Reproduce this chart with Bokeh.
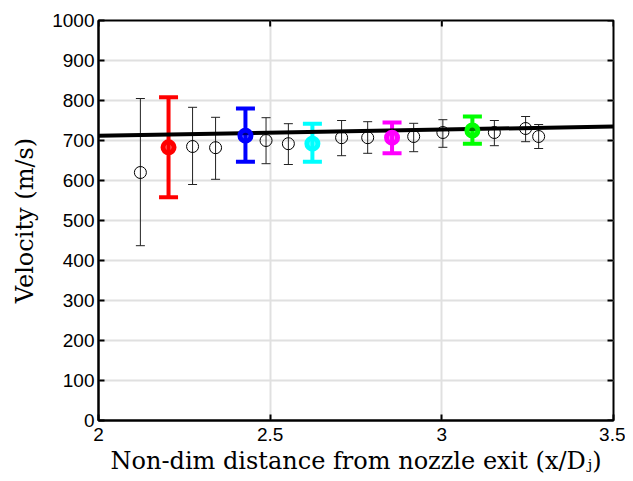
import math
from bokeh.plotting import figure
from bokeh.models import ColumnDataSource, Whisker, TeeHead, FixedTicker, Range1d
from bokeh.embed import file_html
from bokeh.resources import INLINE

# black measurement points
bx = [2.122, 2.274, 2.341, 2.488, 2.553, 2.708, 2.784, 2.918, 3.003, 3.153, 3.244, 3.282]
by = [620, 685, 682, 700, 692, 707, 707, 710, 720, 720, 730, 710]
b_lo = [437, 590, 603, 642, 640, 662, 668, 672, 683, 687, 697, 680]
b_hi = [805, 783, 758, 757, 742, 750, 747, 743, 752, 750, 760, 740]

# coloured points
cx = [2.204, 2.428, 2.623, 2.855, 3.089]
cy = [683, 712, 692, 707, 725]
c_lo = [558, 647, 647, 668, 692]
c_hi = [808, 780, 742, 745, 760]
c_col = ["#ff0000", "#0000ff", "#00ffff", "#ff00ff", "#00ff00"]

# fitted line
fit_x = [2.0, 3.5]
fit_y = [712, 735]

x_ticks = [2, 2.5, 3, 3.5]
y_ticks = [0, 100, 200, 300, 400, 500, 600, 700, 800, 900, 1000]
x_min, x_max = 2.0, 3.5
y_min, y_max = 0, 1000

p = figure(width=625, height=480, output_backend="svg", toolbar_location=None,
           x_range=Range1d(x_min, x_max), y_range=Range1d(y_min, y_max),
           min_border_left=98, min_border_right=12, min_border_top=20, min_border_bottom=60)

p.background_fill_color = "white"
p.outline_line_color = "black"
p.outline_line_width = 2

for ax in (p.xaxis[0], p.yaxis[0]):
    ax.major_tick_in = 6
    ax.major_tick_out = 0
    ax.minor_tick_in = 0
    ax.minor_tick_out = 0
    ax.axis_line_width = 2
    ax.major_tick_line_width = 2
    ax.major_label_text_font = "Liberation Sans"
    ax.major_label_text_font_size = "19px"
    ax.major_label_text_color = "black"
    ax.axis_label_text_font = "DejaVu Serif"
    ax.axis_label_text_font_style = "normal"
    ax.axis_label_text_font_size = "24px"
    ax.axis_label_text_color = "black"

p.xaxis.ticker = FixedTicker(ticks=x_ticks)
p.yaxis.ticker = FixedTicker(ticks=y_ticks)
p.xaxis.axis_label = "Non-dim distance from nozzle exit (x/Dⱼ)"
p.yaxis.axis_label = "Velocity (m/s)"
p.xaxis.major_label_standoff = 7
p.xaxis.axis_label_standoff = 3
p.yaxis.major_label_standoff = 4
p.yaxis.axis_label_standoff = 10

# inward ticks on the right and top edges of the box
p.ray(x=[x_max] * len(y_ticks), y=y_ticks, length=6, length_units="screen",
      angle=math.pi, line_color="black", line_width=2)
p.ray(x=x_ticks, y=[y_max] * len(x_ticks), length=6, length_units="screen",
      angle=-math.pi / 2, line_color="black", line_width=2)

p.xgrid.ticker = FixedTicker(ticks=x_ticks)
p.ygrid.ticker = FixedTicker(ticks=y_ticks)
p.grid.grid_line_color = "#e0e0e0"
p.grid.grid_line_width = 2

bsrc = ColumnDataSource(dict(x=bx, y=by, lo=b_lo, hi=b_hi))
p.add_layout(Whisker(source=bsrc, base="x", upper="hi", lower="lo",
                     line_color="#222222", line_width=1,
                     upper_head=TeeHead(size=9, line_width=1, line_color="#222222"),
                     lower_head=TeeHead(size=9, line_width=1, line_color="#222222")))
p.scatter("x", "y", source=bsrc, marker="circle", size=12, fill_color=None,
          line_color="black", line_width=1)

p.line(fit_x, fit_y, line_color="black", line_width=4)

for x, y, lo, hi, c in zip(cx, cy, c_lo, c_hi, c_col):
    src = ColumnDataSource(dict(x=[x], y=[y], lo=[lo], hi=[hi]))
    p.add_layout(Whisker(source=src, base="x", upper="hi", lower="lo",
                         line_color=c, line_width=4,
                         upper_head=TeeHead(size=19, line_width=4, line_color=c),
                         lower_head=TeeHead(size=19, line_width=4, line_color=c)))
    p.scatter("x", "y", source=src, marker="circle", size=11, fill_color=c,
              fill_alpha=0.5, line_color=c, line_width=5)

open("out.html", "w").write(file_html(p, INLINE))
